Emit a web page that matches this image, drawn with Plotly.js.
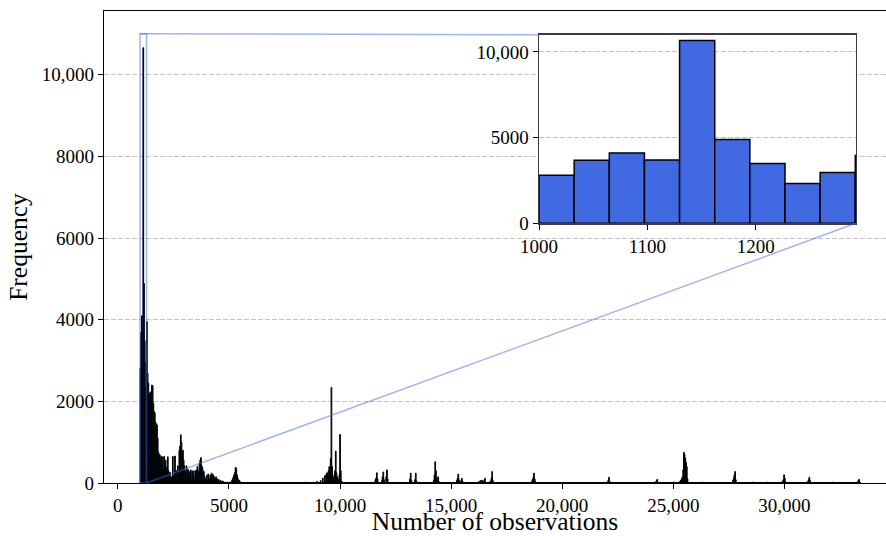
<!DOCTYPE html>
<html><head><meta charset="utf-8">
<script src="https://cdn.plot.ly/plotly-3.0.1.min.js"></script>
<style>html,body{margin:0;padding:0;background:#fff}#chart{width:886px;height:536px}</style>
</head><body><div id="chart"></div>
<script>
// ---- data (histogram of number of observations) ----
const binStart = 1000;
const binWidth = 32.44;
const binCount = 1000;
// counts of the first 141 bins (1000 .. ~5570)
const headCounts = [
 2807,3684,4094,3690,10661,4889,3485,2316,2959,3953,
 2690,2450,2200,2180,2230,2150,2400,2380,1950,1750,
 1720,1480,1450,1420,1100,760,700,690,560,650,
 480,640,330,650,420,560,380,250,640,300,
 200,260,120,150,80,650,180,120,660,280,
 300,150,420,200,800,900,1180,1000,720,800,
 560,420,300,250,420,200,330,150,280,120,
 320,100,250,300,150,120,300,200,320,400,
 250,300,480,560,620,430,380,300,280,160,
 100,90,180,60,220,120,80,200,130,240,
 170,200,160,90,120,150,60,100,40,80,
 30,60,20,40,50,30,20,15,10,15,
 10,20,10,5,20,10,30,60,100,150,
 200,250,380,360,200,120,80,60,40,20,10
];
// sparse counts of the remaining bins (bin index -> count)
const tailBins = [
 150,170,190,210,230,240,245,250,253,256,258,259,260,261,262,263,264,265,266,267,268,269,270,271,272,273,274,275,276,277,278,279,
 300,320,326,327,328,329,335,336,337,338,341,342,343,360,374,375,376,381,382,383,
 400,407,408,409,410,411,412,413,414,430,439,440,441,442,445,446,447,
 470,472,474,476,478,485,486,487,488,489,510,543,544,545,546,547,548,600,
 648,649,650,651,700,715,716,717,718,740,748,749,750,751,752,753,754,755,756,757,758,759,780,800,
 822,823,824,825,826,850,870,891,892,893,894,895,910,926,927,928,929,960,980,995,996,997,998
];
const tailCounts = [
 15,10,12,15,20,20,40,60,120,180,220,250,200,300,400,350,600,2340,400,150,100,200,300,780,250,150,100,80,200,1190,300,50,
 15,20,80,120,250,100,60,150,270,80,150,320,100,20,100,240,60,80,240,50,
 15,60,200,520,300,100,60,150,40,15,60,120,220,80,60,115,40,
 40,60,70,50,115,30,50,120,280,60,15,40,80,130,240,100,30,12,
 30,60,140,40,12,30,50,90,20,25,30,50,70,100,150,320,750,700,600,500,400,100,20,15,
 60,115,200,280,80,25,20,40,80,200,115,30,15,40,80,140,60,20,15,30,60,90,20
];
const zoomX = [1000, 1292.6];
const zoomY = [0, 11000];
const mainXRange = [-622, 34571];
const mainYRange = [0, 11560];
const xTitle = 'Number of observations';
const yTitle = 'Frequency';

// ---- build histogram ----
const counts = new Array(binCount).fill(0);
headCounts.forEach((c, i) => { counts[i] = c; });
tailBins.forEach((b, k) => { counts[b] = tailCounts[k]; });
const centers = counts.map((_, i) => binStart + (i + 0.5) * binWidth);
const nInset = 11;

const font = 'Liberation Serif, Times New Roman, serif';
const blue = 'rgb(65,105,225)';
const markColor = 'rgba(65,105,225,0.5)';
const gridColor = '#c4c4c4';

const insetDomX = [0.5563, 0.9616];
const insetDomY = [0.5502, 0.9498];

const traces = [
  {type:'bar', x:centers, y:counts, width:binWidth, xaxis:'x', yaxis:'y',
   marker:{color:blue, line:{color:'black', width:1}}, hoverinfo:'x+y'},
  {type:'scatter', mode:'lines', x:[binStart, binStart + binCount*binWidth], y:[0,0],
   line:{color:'black', width:2}, xaxis:'x', yaxis:'y', hoverinfo:'skip'},
  {type:'bar', x:centers.slice(0,nInset), y:counts.slice(0,nInset), width:binWidth,
   xaxis:'x2', yaxis:'y2', marker:{color:blue, line:{color:'black', width:1.5}}}
];

function px(v, r) { return (v - r[0]) / (r[1] - r[0]); }
const shapes = [
  {type:'rect', xref:'x', yref:'y', x0:zoomX[0], x1:zoomX[1], y0:zoomY[0], y1:zoomY[1],
   line:{color:markColor, width:1.5}, fillcolor:'rgba(0,0,0,0)'},
  {type:'line', xref:'paper', yref:'paper',
   x0:px(zoomX[0], mainXRange), y0:px(zoomY[1], mainYRange), x1:insetDomX[0], y1:insetDomY[1],
   line:{color:markColor, width:1.5}},
  {type:'line', xref:'paper', yref:'paper',
   x0:px(zoomX[1], mainXRange), y0:px(zoomY[0], mainYRange), x1:insetDomX[1], y1:insetDomY[0],
   line:{color:markColor, width:1.5}}
];

const tickFont = {family:font, size:19, color:'black'};
const layout = {
  width:886, height:536,
  margin:{l:104, r:0, t:11, b:53},
  paper_bgcolor:'white', plot_bgcolor:'white',
  showlegend:false, barmode:'overlay',
  font:{family:font, color:'black'},
  xaxis:{domain:[0,1], range:mainXRange, tickvals:[0,5000,10000,15000,20000,25000,30000],
    ticks:'outside', ticklen:5, tickwidth:1, tickcolor:'black', showgrid:false, zeroline:false,
    showline:true, linecolor:'black', linewidth:1.3, mirror:true, exponentformat:'none',
    tickfont:tickFont, title:{text:xTitle, font:{family:font, size:25.5}, standoff:9}},
  yaxis:{domain:[0,1], range:mainYRange, dtick:2000, tick0:0,
    ticks:'outside', ticklen:5, tickwidth:1, tickcolor:'black', showgrid:true, gridcolor:gridColor,
    griddash:'5px,2px', gridwidth:1, zeroline:false, showline:true, linecolor:'black', linewidth:1.3,
    exponentformat:'none', tickfont:tickFont, title:{text:yTitle, font:{family:font, size:25.5}, standoff:6}},
  xaxis2:{domain:insetDomX, anchor:'y2', range:zoomX, dtick:100, tick0:1000,
    ticks:'outside', ticklen:5, tickwidth:1, tickcolor:'black', showgrid:false, zeroline:false,
    showline:true, linecolor:'#3a3a48', linewidth:1.5, mirror:true, exponentformat:'none', tickfont:tickFont},
  yaxis2:{domain:insetDomY, anchor:'x2', range:zoomY, dtick:5000, tick0:0,
    ticks:'outside', ticklen:5, tickwidth:1, tickcolor:'black', showgrid:true, gridcolor:gridColor,
    griddash:'5px,2px', gridwidth:1, zeroline:false, showline:true, linecolor:'#3a3a48', linewidth:1.5,
    mirror:true, exponentformat:'none', tickfont:tickFont},
  shapes:shapes
};
Plotly.newPlot('chart', traces, layout, {staticPlot:true, displayModeBar:false});
</script></body></html>
